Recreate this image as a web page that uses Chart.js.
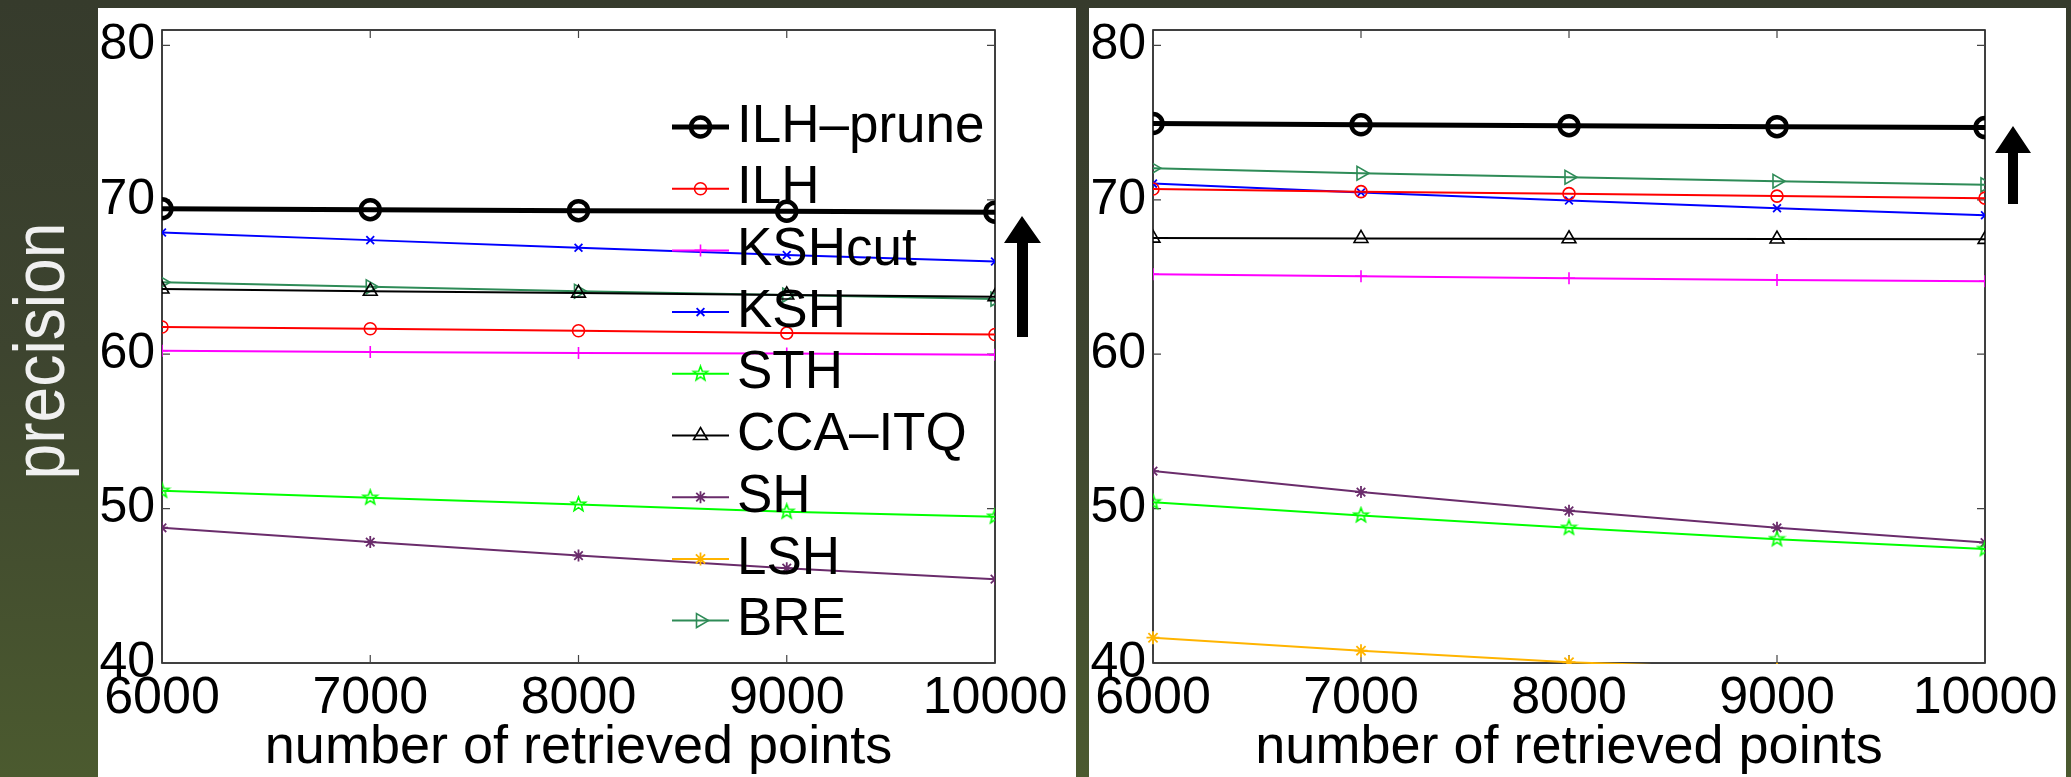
<!DOCTYPE html>
<html>
<head>
<meta charset="utf-8">
<script src="https://cdn.jsdelivr.net/npm/chart.js@4.4.1/dist/chart.umd.min.js"></script>
<style>
  html,body{margin:0;padding:0;}
  body{width:2071px;height:777px;overflow:hidden;position:relative;
       background:linear-gradient(to bottom,#363b2c 0%,#3d442f 45%,#4b5a2f 100%);
       font-family:"Liberation Sans",Arial,sans-serif;}
  .panel{position:absolute;top:8px;bottom:0;background:#fff;}
  .box{position:absolute;top:0;height:777px;}
  #ylab{position:absolute;left:38px;top:351px;color:#f0f0f0;font-size:73px;line-height:1;white-space:nowrap;
        transform:translate(-50%,-50%) rotate(-90deg) scaleX(0.88);}
  #arrows{position:absolute;left:0;top:0;pointer-events:none;}
</style>
</head>
<body>
<div class="panel" style="left:98px;width:978px;"></div>
<div class="panel" style="left:1089px;width:977px;"></div>
<div id="ylab">precision</div>
<div class="box" style="left:98px;width:978px;"><canvas id="left"></canvas></div>
<div class="box" style="left:1089px;width:977px;"><canvas id="right"></canvas></div>
<svg id="arrows" width="2071" height="777">
  <polygon points="1022,216 1041,243 1028,243 1028,337 1017,337 1017,243 1004,243" fill="#000"/>
  <polygon points="2013,126 2031,153 2018,153 2018,204 2008,204 2008,153 1995,153" fill="#000"/>
</svg>
<script>
// daten
var xs = [6000, 7000, 8000, 9000, 10000];
var xTicks = [6000, 7000, 8000, 9000, 10000];
var yTicks = [40, 50, 60, 70, 80];
var labels = ["ILH–prune", "ILH", "KSHcut", "KSH", "STH", "CCA–ITQ", "SH", "LSH", "BRE"];
var xTitle = "number of retrieved points";

var leftIlhPrune = [69.42, 69.36, 69.3, 69.26, 69.2];
var leftIlh      = [61.76, 61.65, 61.52, 61.37, 61.28];
var leftKshcut   = [60.22, 60.14, 60.08, 60.04, 59.97];
var leftKsh      = [67.89, 67.39, 66.9, 66.43, 66.0];
var leftSth      = [51.16, 50.71, 50.27, 49.8, 49.48];
var leftCca      = [64.22, 64.08, 63.96, 63.84, 63.73];
var leftSh       = [48.76, 47.83, 46.96, 46.14, 45.43];
var leftLsh      = [null, null, null, null, null];
var leftBre      = [64.66, 64.37, 64.08, 63.83, 63.57];

var rightIlhPrune = [74.94, 74.86, 74.8, 74.74, 74.68];
var rightIlh      = [70.7, 70.53, 70.4, 70.24, 70.11];
var rightKshcut   = [65.18, 65.05, 64.92, 64.8, 64.73];
var rightKsh      = [71.05, 70.47, 69.96, 69.45, 69.0];
var rightSth      = [50.42, 49.56, 48.76, 48.02, 47.38];
var rightCca      = [67.52, 67.5, 67.48, 67.46, 67.44];
var rightSh       = [52.43, 51.07, 49.86, 48.76, 47.8];
var rightLsh      = [41.64, 40.8, 40.05, 39.6, 39.2];
var rightBre      = [72.05, 71.72, 71.46, 71.2, 70.97];

var FONT = "'Liberation Sans', Arial, sans-serif";

function pentagram(color, r){
  var s = Math.ceil(r*2+4), c = document.createElement("canvas"); c.width = c.height = s;
  var g = c.getContext("2d"); g.strokeStyle = color; g.lineWidth = 1.6; g.beginPath();
  for (var i=0;i<10;i++){
    var a = -Math.PI/2 + i*Math.PI/5, rr = (i%2) ? r*0.42 : r;
    var px = s/2 + rr*Math.cos(a), py = s/2 + rr*Math.sin(a);
    if (i) g.lineTo(px,py); else g.moveTo(px,py);
  }
  g.closePath(); g.stroke(); return c;
}
var STAR5 = pentagram("#00ff00", 7.5);

// stil pro serie: farbe, marker, radius, markerrand, linienbreite, rotation
var styles = [
  {color:"#000000", style:"circle",    r:9.5, bw:4.5, lw:5},
  {color:"#ff0000", style:"circle",    r:6,   bw:1.6, lw:2},
  {color:"#ff00ff", style:"cross",     r:6,   bw:1.6, lw:2},
  {color:"#0000ff", style:"crossRot",  r:5.5, bw:1.8, lw:2},
  {color:"#00ff00", style:STAR5,       r:7.5, bw:1.6, lw:2},
  {color:"#000000", style:"triangle",  r:8,   bw:1.6, lw:2},
  {color:"#6a2c6b", style:"star",      r:6,   bw:1.8, lw:2},
  {color:"#ffb400", style:"star",      r:6.5, bw:1.8, lw:2},
  {color:"#2e8b57", style:"triangle",  r:8,   bw:1.6, lw:2, rot:90}
];

function ds(i, vals){
  var st = styles[i];
  var d = {
    label: labels[i],
    data: xs.map(function(x,k){ return {x:x, y:vals[k]}; }),
    borderColor: st.color, backgroundColor: st.color,
    pointBorderColor: st.color, pointBackgroundColor: "rgba(0,0,0,0)",
    pointStyle: st.style, pointRadius: st.r, pointHoverRadius: st.r,
    pointBorderWidth: st.bw, pointRotation: st.rot||0,
    borderWidth: st.lw, tension: 0
  };
  if (labels[i] === "LSH") d.clip = {left:14, top:14, right:14, bottom:1};
  return d;
}

// matlab-achsenbox mit innenliegenden ticks
var boxPlugin = {
  id: "box",
  beforeDatasetsDraw: function(chart){
    var a = chart.chartArea, c = chart.ctx, sx = chart.scales.x, sy = chart.scales.y;
    c.save();
    c.strokeStyle = "#000"; c.lineWidth = 1.5;
    c.strokeRect(a.left, a.top, a.right-a.left, a.bottom-a.top);
    c.strokeStyle = "#444"; c.lineWidth = 1.2; c.beginPath();
    sy.ticks.forEach(function(t){
      var y = sy.getPixelForValue(t.value);
      c.moveTo(a.left, y); c.lineTo(a.left+8, y);
      c.moveTo(a.right, y); c.lineTo(a.right-8, y);
    });
    sx.ticks.forEach(function(t){
      var x = sx.getPixelForValue(t.value);
      c.moveTo(x, a.bottom); c.lineTo(x, a.bottom-8);
      c.moveTo(x, a.top); c.lineTo(x, a.top+8);
    });
    c.stroke(); c.restore();
  }
};

// legende ohne rahmen, im plotbereich
var legendPlugin = {
  id: "mlegend",
  afterDatasetsDraw: function(chart){
    var a = chart.chartArea, c = chart.ctx;
    var x0 = a.left + 510, y0 = a.top + 97, dy = 61.7, len = 57;
    c.save();
    chart.data.datasets.forEach(function(d, i){
      var y = y0 + i*dy;
      c.strokeStyle = d.borderColor; c.lineWidth = d.borderWidth;
      c.beginPath(); c.moveTo(x0, y); c.lineTo(x0+len, y); c.stroke();
      c.fillStyle = "rgba(0,0,0,0)"; c.lineWidth = d.pointBorderWidth;
      Chart.helpers.drawPoint(c, {pointStyle:d.pointStyle, rotation:d.pointRotation, radius:d.pointRadius, borderWidth:d.pointBorderWidth}, x0+len/2, y);
      c.fillStyle = "#000"; c.font = "53px " + FONT; c.textBaseline = "middle"; c.textAlign = "left";
      c.fillText(d.label, x0+len+8, y);
    });
    c.restore();
  }
};

function scales(){
  return {
    x: { type:"linear", min:6000, max:10000,
      afterBuildTicks: function(s){ s.ticks = xTicks.map(function(v){ return {value:v}; }); },
      afterFit: function(s){ s.height = 114; s.paddingLeft = 0; s.paddingRight = 0; },
      grid:{display:false, drawTicks:false}, border:{display:false},
      ticks:{ color:"#000", padding:4, maxRotation:0, autoSkip:false,
              font:{family:FONT, size:52, lineHeight:1.2}, callback:function(v){ return String(v); } },
      title:{ display:true, text:xTitle, color:"#000", font:{family:FONT, size:54, lineHeight:1}, padding:{top:0, bottom:2} }
    },
    y: { type:"linear", min:40, max:81,
      afterBuildTicks: function(s){ s.ticks = yTicks.map(function(v){ return {value:v}; }); },
      afterFit: function(s){ s.width = 64; s.paddingTop = 0; s.paddingBottom = 0; },
      grid:{display:false, drawTicks:false}, border:{display:false},
      ticks:{ color:"#000", padding:7, autoSkip:false,
              font:{family:FONT, size:50, lineHeight:1.2}, callback:function(v){ return String(v); } }
    }
  };
}

function makeChart(id, sets, withLegend){
  return new Chart(document.getElementById(id), {
    type: "line",
    data: { datasets: sets },
    options: {
      responsive:true, maintainAspectRatio:false, animation:false,
      layout:{ padding:{top:30, right:81, left:0, bottom:0} },
      plugins:{ legend:{display:false}, tooltip:{enabled:false} },
      scales: scales()
    },
    plugins: withLegend ? [boxPlugin, legendPlugin] : [boxPlugin]
  });
}

makeChart("left", [
  ds(0,leftIlhPrune), ds(1,leftIlh), ds(2,leftKshcut), ds(3,leftKsh), ds(4,leftSth),
  ds(5,leftCca), ds(6,leftSh), ds(7,leftLsh), ds(8,leftBre)
], true);
makeChart("right", [
  ds(0,rightIlhPrune), ds(1,rightIlh), ds(2,rightKshcut), ds(3,rightKsh), ds(4,rightSth),
  ds(5,rightCca), ds(6,rightSh), ds(7,rightLsh), ds(8,rightBre)
], false);
</script>
</body>
</html>
